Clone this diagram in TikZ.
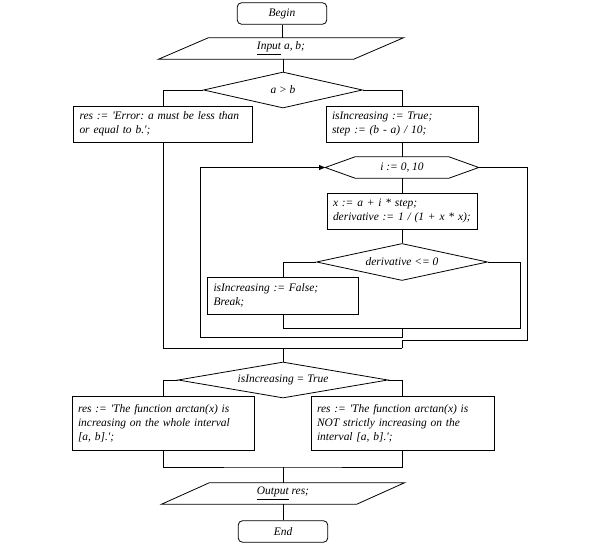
\documentclass[tikz,border=0pt]{standalone}
\usepackage{fontspec}
\setmainfont{Liberation Serif}
\usepackage{tikz}
\usetikzlibrary{
  arrows.meta,
  calc,
  shapes.geometric
}
\newcommand{\qmark}{\textquotesingle}
\frenchspacing
\tikzset{
  every picture/.style = {line join=miter},
  every node/.style = {font=\itshape\fontsize{8.6}{10.5}\selectfont, text=black},
  flow/.style = {draw=black, line width=0.6pt},
  flow arrow/.style = {flow, -{Triangle[length=4.5pt,width=3.6pt]}},
  terminal/.style = {
    draw=black,
    line width=0.6pt,
    rounded corners=3pt,
    minimum width=67pt,
    minimum height=16pt,
    inner sep=0pt
  },
  proc/.style = {
    draw=black,
    line width=0.6pt,
    align=left,
    inner xsep=4.5pt,
    inner ysep=0pt
  },
  cond/.style = {diamond, aspect=5, draw=black, line width=0.6pt, inner sep=0pt},
  io frame/.style = {minimum width=146pt, minimum height=15.75pt, inner sep=0pt},
  loop frame/.style = {minimum width=69.75pt, minimum height=15.75pt, inner sep=0pt},
}

\begin{document}
\begin{tikzpicture}[x=0.75pt,y=-0.75pt]
  \useasboundingbox (0,0) rectangle (600,545);

  \node[terminal] (begin) at (282,13.5) {Begin};
  \node[io frame] (input) at (281,48.5) {\underline{Input} a, b;};
  \node[cond, minimum width=119.25pt, minimum height=27pt] (ab) at (283,90) {a > b};

  \node[proc, text width=125.25pt, minimum height=27pt] (err) at (163,124)
    {res := \qmark Error: a must be less than\\or equal to b.\qmark;};
  \node[proc, text width=105pt, minimum height=27pt] (init) at (402,124)
    {isIncreasing := True;\\step := (b - a) / 10;};

  \node[loop frame] (loop) at (402,167.5) {i := 0, 10};
  \node[proc, text width=103.5pt, minimum height=27pt] (body) at (402,211)
    {x := a + i * step;\\derivative := 1 / (1 + x * x);};
  \node[cond, minimum width=128.25pt, minimum height=27.75pt] (deriv) at (402,262) {derivative <= 0};
  \node[proc, text width=104.25pt, minimum height=27.75pt] (brk) at (283,295.5)
    {isIncreasing := False;\\Break;};

  \node[cond, minimum width=157.5pt, minimum height=27pt] (inc) at (283,380) {isIncreasing = True};
  \node[proc, text width=127.5pt, minimum height=40.5pt] (yes) at (163,423)
    {res := \qmark The function arctan(x) is\\increasing on the whole interval\\{}[a, b].\qmark;};
  \node[proc, text width=128.25pt, minimum height=40.5pt] (no) at (402.5,423)
    {res := \qmark The function arctan(x) is\\NOT strictly increasing on the\\interval [a, b].\qmark;};

  \node[io frame] (output) at (283,493.5) {\underline{Output} res;};
  \node[terminal] (end) at (283,531.5) {End};

  \draw[flow] ($(input.south west)+(-25,0)$) -- ($(input.south east)+(-25,0)$)
    -- ($(input.north east)+(25,0)$) -- ($(input.north west)+(25,0)$) -- cycle;
  \draw[flow] ($(output.south west)+(-24,0)$) -- ($(output.south east)+(-24,0)$)
    -- ($(output.north east)+(24,0)$) -- ($(output.north west)+(24,0)$) -- cycle;

  \coordinate (loopL) at ($(loop.west)+(-30,0)$);
  \coordinate (loopR) at ($(loop.east)+(30,0)$);
  \draw[flow] (loopL) -- (loop.north west) -- (loop.north east) -- (loopR)
    -- (loop.south east) -- (loop.south west) -- cycle;

  \coordinate (dR) at (520,328);
  \coordinate (dJ) at (402,328);
  \coordinate (lL) at (200,337);
  \coordinate (eR) at (527,340);
  \coordinate (eJ) at (402,348);
  \coordinate (mJ) at (283,348);
  \coordinate (bJ) at (283,467);

  \draw[flow] (begin.south) -- (begin.south|-input.north);
  \draw[flow] (ab.north|-input.south) -- (ab.north);
  \draw[flow] (ab.west) -| (err.north);
  \draw[flow] (ab.east) -| (init.north);
  \draw[flow] (init.south) -- (loop.north);
  \draw[flow] (loop.south) -- (body.north);
  \draw[flow] (body.south) -- (deriv.north);
  \draw[flow] (deriv.west) -| (brk.north);
  \draw[flow] (deriv.east) -| (dR) -- (dJ);
  \draw[flow] (brk.south) |- (dJ);
  \draw[flow arrow] (dJ) |- (lL) |- (loopL);
  \draw[flow] (loopR) -| (eR) -| (eJ);
  \draw[flow] (err.south) |- (eJ);
  \draw[flow] (mJ) -- (inc.north);
  \draw[flow] (inc.west) -| (yes.north);
  \draw[flow] (inc.east) -| (no.north);
  \draw[flow] (yes.south) |- (bJ) -| (no.south);
  \draw[flow] (bJ) -- (output.north);
  \draw[flow] (output.south) -- (end.north);
\end{tikzpicture}
\end{document}
